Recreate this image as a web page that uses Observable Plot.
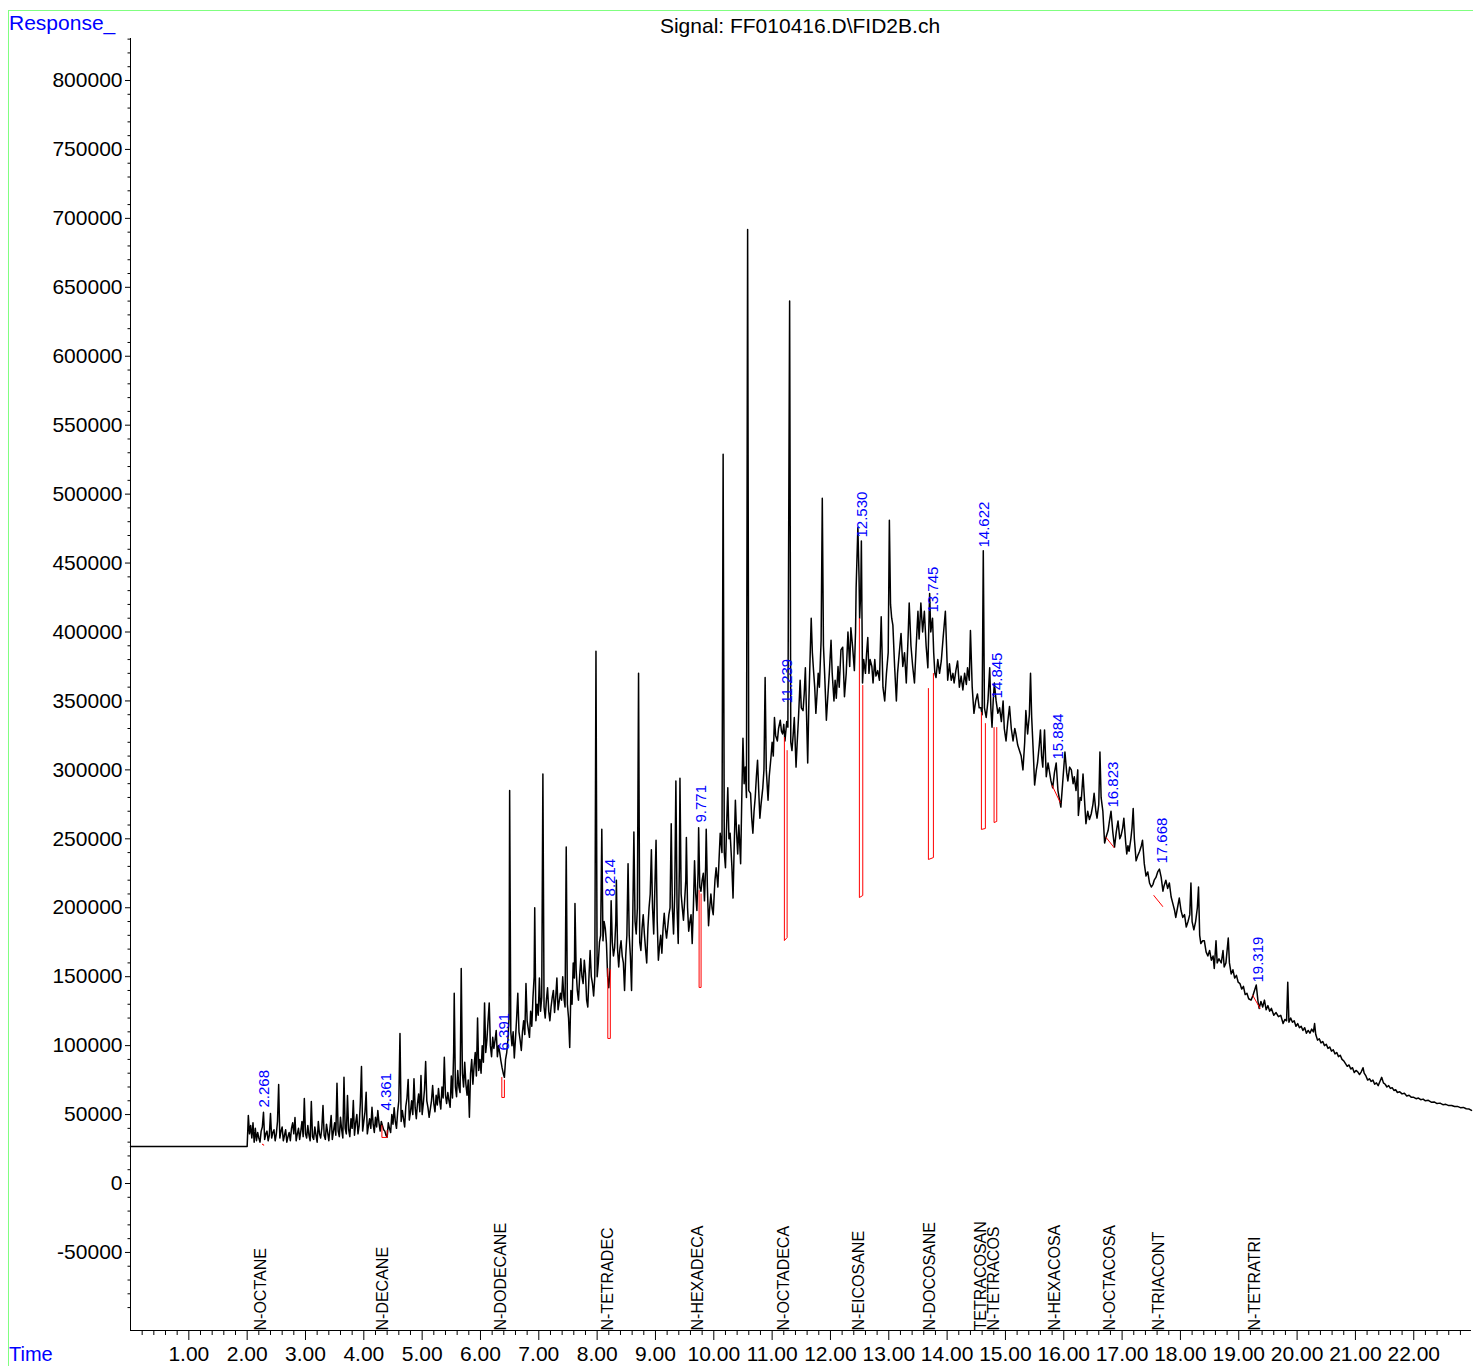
<!DOCTYPE html>
<html><head><meta charset="utf-8">
<script src="https://cdn.jsdelivr.net/npm/d3@7"></script>
<script src="https://cdn.jsdelivr.net/npm/@observablehq/plot@0.6"></script>
<style>
html,body{margin:0;padding:0;background:#fff;}
#chart{position:relative;width:1473px;height:1366px;overflow:hidden;}
</style></head><body><div id="chart"></div>
<script>
// ---- Texts ----
const chartTitle = "Signal: FF010416.D\\FID2B.ch";
const yAxisTitle = "Response_";
const xAxisTitle = "Time";

// ---- Axis ticks ----
const xTicks = [1,2,3,4,5,6,7,8,9,10,11,12,13,14,15,16,17,18,19,20,21,22];
const yTicks = [-50000,0,50000,100000,150000,200000,250000,300000,350000,400000,450000,500000,550000,600000,650000,700000,750000,800000];

// ---- Integrated peaks ----
const peakTimes = [2.268, 4.361, 6.391, 8.214, 9.771, 11.239, 12.530, 13.745, 14.622, 14.845, 15.884, 16.823, 17.668, 19.319];
const compoundNames = ["N-OCTANE","N-DECANE","N-DODECANE","N-TETRADEC","N-HEXADECA","N-OCTADECA","N-EICOSANE","N-DOCOSANE","TETRACOSAN","N-TETRACOS","N-HEXACOSA","N-OCTACOSA","N-TRIACONT","N-TETRATRI"];
// response (thousands) at which each retention-time label starts
const labelResp = [55.1, 52.9, 96.5, 208.2, 261.8, 348.1, 468.5, 414.1, 461.3, 351.8, 307.5, 272.7, 232.1, 145.8];
// integration baseline markers (time in min, response in thousands)
const markStart   = [2.256, 4.31, 6.366, 8.183, 9.748, 11.210, 12.496, 13.679, 14.588, 14.805, 15.80, 16.725, 17.543, 19.24];
const markEnd     = [2.29, 4.40, 6.41, 8.226, 9.782, 11.257, 12.554, 13.765, 14.656, 14.851, 15.94, 16.862, 17.697, 19.367];
const markTop1    = [28.5, 42.1, 76.9, 155.9, 212.5, 323.5, 409.8, 359.0, 341.6, 330.7, 288.7, 251.0, 208.9, 136.4];
const markBottom1 = [28.5, 33.4, 62.4, 105.2, 142.2, 176.2, 207.4, 235.0, 256.8, 261.8, 288.7, 251.0, 208.9, 136.4];
const markBottom2 = [27.8, 33.4, 62.4, 105.2, 142.2, 178.4, 208.9, 236.4, 257.5, 262.6, 276.3, 243.7, 200.9, 126.9];
const markTop2    = [27.8, 38.4, 75.0, 155.0, 210.0, 314.0, 361.2, 369.9, 333.6, 330.7, 276.3, 243.7, 200.9, 126.9];

// ---- Detector trace: [time (min), response (thousands)] ----
const traceA = [[0,26.8],[2.00,26.8],[2.02,49.3],[2.04,36],[2.06,42],[2.08,33],[2.10,44],[2.12,30],[2.14,40],[2.16,31],[2.18,37],[2.20,33],[2.22,30],[2.24,38],[2.26,41],[2.28,51.7],[2.30,32],[2.32,36],[2.34,38],[2.36,31],[2.38,35],[2.40,50.7],[2.42,33],[2.44,37],[2.46,39],[2.48,31],[2.50,36],[2.52,45],[2.54,71.8],[2.56,33],[2.58,38],[2.60,41],[2.62,31],[2.64,35],[2.66,39],[2.68,30],[2.70,34],[2.72,37],[2.74,31],[2.76,40],[2.78,44],[2.80,36],[2.82,47.9],[2.84,31],[2.86,36],[2.88,40],[2.90,32],[2.92,38],[2.94,45],[2.96,34],[2.98,61.6],[3.00,36],[3.02,33],[3.04,42],[3.06,35],[3.08,31],[3.10,59.5],[3.12,34],[3.14,32],[3.16,41],[3.18,35],[3.20,30],[3.22,45],[3.24,36],[3.26,33],[3.28,40],[3.30,56.6],[3.32,35],[3.34,32],[3.36,43],[3.38,37],[3.40,31],[3.42,40],[3.44,49.3],[3.46,32],[3.48,38],[3.50,44],[3.52,35],[3.54,72.7],[3.56,38],[3.58,34],[3.60,48],[3.62,39],[3.64,33],[3.66,77.1],[3.68,40],[3.70,36],[3.72,63.8],[3.74,39],[3.76,34],[3.78,47],[3.80,40],[3.82,60.2],[3.84,35],[3.86,44],[3.88,50],[3.90,36],[3.92,42],[3.94,58],[3.96,84.9],[3.98,38],[4.00,45],[4.02,52],[4.04,66.2],[4.06,36],[4.08,42],[4.10,47],[4.12,40],[4.14,55.3],[4.16,43],[4.18,37],[4.20,48],[4.22,41],[4.24,52.9],[4.26,44],[4.28,38],[4.30,45],[4.32,42],[4.34,39],[4.36,38],[4.38,35],[4.40,33.6],[4.42,44],[4.44,40],[4.46,37],[4.48,50],[4.50,43],[4.52,55],[4.54,45],[4.56,40],[4.58,52],[4.60,60],[4.62,108.8],[4.64,45],[4.66,53],[4.68,47],[4.70,41],[4.72,56],[4.74,62],[4.76,75.4],[4.78,46],[4.80,52],[4.82,60],[4.84,50],[4.86,76],[4.88,55],[4.90,47],[4.92,58],[4.94,65],[4.96,52],[4.98,78.3],[5.00,50],[5.02,58],[5.04,68],[5.06,88.5],[5.08,60],[5.10,55],[5.12,48],[5.14,54],[5.16,60],[5.18,71],[5.20,58],[5.22,52],[5.24,64],[5.26,57],[5.28,68.9],[5.30,60],[5.32,54],[5.34,70],[5.36,62],[5.38,91.6],[5.40,64],[5.42,58],[5.44,66],[5.46,60],[5.48,55.3],[5.50,78],[5.52,62],[5.54,95],[5.55,138],[5.57,70],[5.59,63],[5.61,82],[5.63,70],[5.65,66],[5.67,156],[5.69,80],[5.71,70],[5.73,88],[5.75,72],[5.77,64],[5.79,75],[5.81,48],[5.83,80],[5.85,90],[5.87,72],[5.89,85],[5.91,95],[5.93,78],[5.95,120],[5.97,82],[5.99,90]];
const traceB = [[6.01,80],[6.03,100],[6.05,88],[6.07,131],[6.09,95],[6.11,104],[6.13,118],[6.15,131],[6.17,100],[6.19,92],[6.21,106],[6.23,98],[6.25,104],[6.27,111],[6.29,92],[6.31,100],[6.33,95],[6.35,89],[6.37,84],[6.39,80],[6.41,77],[6.43,90],[6.45,95],[6.47,104],[6.49,120],[6.50,285],[6.52,110],[6.54,100],[6.56,110],[6.58,91],[6.60,105],[6.62,120],[6.64,138],[6.66,110],[6.68,104],[6.70,96.5],[6.72,110],[6.74,118],[6.76,108],[6.78,145],[6.80,118],[6.82,112],[6.84,106],[6.86,125],[6.88,114],[6.90,135],[6.92,150],[6.93,200],[6.95,118],[6.97,130],[6.99,122],[7.01,149],[7.03,125],[7.05,135],[7.07,297],[7.09,128],[7.11,120],[7.13,133],[7.15,142],[7.17,125],[7.19,118],[7.21,128],[7.23,135],[7.25,140],[7.27,124],[7.29,135],[7.31,149],[7.33,126],[7.35,132],[7.37,138],[7.39,133],[7.41,150],[7.43,135],[7.45,128],[7.47,244],[7.49,130],[7.51,120],[7.53,98.6],[7.55,140],[7.57,130],[7.59,160],[7.61,149],[7.62,203],[7.64,155],[7.66,140],[7.68,133],[7.70,150],[7.72,163],[7.74,150],[7.76,145],[7.78,162],[7.80,152],[7.82,133],[7.84,128],[7.86,150],[7.88,169],[7.90,150],[7.92,145],[7.94,136],[7.96,150],[7.98,386],[8.00,150]];
const traceC = [[8.02,160],[8.04,175],[8.06,180],[8.08,257],[8.10,176],[8.12,190],[8.14,185],[8.16,174],[8.18,150],[8.20,142],[8.22,155],[8.24,205],[8.26,175],[8.28,165],[8.30,171],[8.32,190],[8.33,220],[8.35,170],[8.37,157],[8.39,170],[8.41,176],[8.43,165],[8.45,160],[8.47,140],[8.49,165],[8.51,180],[8.53,232],[8.55,180],[8.57,165],[8.59,140],[8.61,190],[8.63,255],[8.65,190],[8.67,181],[8.69,200],[8.71,370],[8.73,175],[8.75,169],[8.77,185],[8.79,195],[8.81,181],[8.83,170],[8.85,160],[8.87,185],[8.89,200],[8.91,210],[8.93,242],[8.95,200],[8.97,181],[8.99,215],[9.01,249],[9.03,190],[9.05,162],[9.07,172],[9.09,180],[9.11,167],[9.13,185],[9.15,196],[9.17,185],[9.19,178],[9.21,186],[9.23,195],[9.25,200],[9.27,261],[9.29,200],[9.31,181],[9.33,210],[9.35,292],[9.37,200],[9.39,174],[9.41,230],[9.42,294],[9.44,210],[9.46,200],[9.48,191],[9.50,205],[9.52,220],[9.53,251],[9.55,200],[9.57,183],[9.59,190],[9.61,195],[9.63,174],[9.65,200],[9.67,234],[9.69,210],[9.71,198],[9.73,225],[9.74,258],[9.76,215],[9.78,212],[9.80,220],[9.82,225],[9.84,205],[9.86,230],[9.87,257],[9.89,215],[9.91,187],[9.93,200],[9.95,210],[9.97,200],[9.99,195]];
const traceD = [[10.01,212],[10.02,220],[10.04,229],[10.07,215],[10.09,235],[10.11,254],[10.14,240],[10.16,529],[10.18,240],[10.20,229],[10.22,260],[10.24,287],[10.26,250],[10.28,254],[10.31,230],[10.33,207],[10.35,245],[10.37,278],[10.39,255],[10.41,239],[10.43,260],[10.46,232],[10.48,280],[10.50,323],[10.52,290],[10.54,302],[10.56,280],[10.58,692],[10.60,285],[10.63,283],[10.65,265],[10.67,254],[10.69,270],[10.71,280],[10.73,295],[10.75,307],[10.77,285],[10.79,265],[10.81,275],[10.84,287],[10.86,300],[10.88,367],[10.90,300],[10.93,278],[10.95,295],[10.98,309],[11.00,320],[11.02,310],[11.04,338],[11.06,325],[11.09,321],[11.11,330],[11.14,336],[11.16,328],[11.18,326],[11.20,333],[11.22,321],[11.25,335],[11.27,331],[11.30,640],[11.32,320],[11.34,314],[11.36,325],[11.38,338],[11.41,302],[11.43,320],[11.45,336],[11.48,365],[11.50,345],[11.53,343],[11.55,355],[11.57,374],[11.59,340],[11.61,305],[11.63,350],[11.67,410],[11.69,385],[11.71,372],[11.73,360],[11.75,341],[11.77,355],[11.79,370],[11.81,360],[11.84,394],[11.86,497],[11.88,390],[11.90,370],[11.93,336],[11.95,350],[11.98,370],[12.01,394]];
const traceE = [[12.03,370],[12.06,350],[12.08,365],[12.10,352],[12.13,375],[12.15,360],[12.18,387],[12.21,389],[12.24,353],[12.27,370],[12.30,400],[12.33,375],[12.35,403],[12.38,389],[12.41,372],[12.43,400],[12.44,432],[12.47,476],[12.49,440],[12.50,410],[12.52,430],[12.53,466],[12.55,363],[12.57,380],[12.60,370],[12.62,385],[12.64,396],[12.66,370],[12.68,380],[12.71,375],[12.73,363],[12.76,380],[12.78,368],[12.81,372],[12.84,365],[12.87,411],[12.90,360],[12.93,350],[12.96,370],[12.99,385],[13.01,481],[13.03,420],[13.05,410],[13.07,405],[13.10,375],[13.13,350],[13.15,370],[13.18,385],[13.21,399],[13.24,375],[13.27,385],[13.30,363],[13.33,395],[13.35,421],[13.38,390],[13.41,375],[13.44,363],[13.47,390],[13.50,415],[13.52,395],[13.55,421],[13.58,400],[13.61,415],[13.64,390],[13.67,374],[13.70,428],[13.72,400],[13.75,410],[13.77,385],[13.79,370],[13.81,367],[13.84,380],[13.87,370],[13.90,379],[13.93,395],[13.97,415],[13.99,390],[14.01,365]];
const traceF = [[14.04,377],[14.07,365],[14.10,370],[14.12,363],[14.15,372],[14.18,379],[14.21,360],[14.24,368],[14.27,358],[14.30,370],[14.33,362],[14.35,374],[14.38,365],[14.40,401],[14.43,360],[14.46,341],[14.49,350],[14.52,355],[14.55,345],[14.58,345],[14.60,340],[14.62,459],[14.64,345],[14.67,338],[14.70,350],[14.73,374],[14.75,345],[14.77,331],[14.79,350],[14.81,363],[14.84,350],[14.87,341],[14.90,345],[14.93,335],[14.96,350],[14.98,330],[15.01,321],[15.04,335],[15.07,346],[15.10,330],[15.13,321],[15.16,330],[15.18,326],[15.21,318],[15.24,314],[15.27,310],[15.30,300],[15.33,320],[15.35,343],[15.38,326],[15.41,340],[15.43,370],[15.45,338],[15.48,310],[15.50,289],[15.53,300],[15.55,305],[15.58,318],[15.60,329],[15.62,310],[15.64,302],[15.67,329],[15.70,295],[15.73,305],[15.75,300],[15.78,292],[15.81,287],[15.84,298],[15.87,305],[15.90,285],[15.92,280],[15.95,273],[15.98,290],[16.02,313],[16.05,298],[16.07,292],[16.10,302],[16.13,300],[16.16,290],[16.18,295],[16.21,285],[16.24,300],[16.25,267],[16.28,280],[16.30,278],[16.33,297],[16.36,275],[16.38,261],[16.41,270],[16.44,264],[16.47,268],[16.50,275],[16.52,283],[16.55,270],[16.57,265],[16.60,275],[16.62,313],[16.64,280],[16.67,270],[16.70,247],[16.73,252],[16.76,256],[16.78,262],[16.81,270],[16.84,255],[16.87,244],[16.90,255],[16.93,263],[16.96,250],[16.98,252],[17.01,258],[17.03,265],[17.06,248],[17.08,239],[17.10,245],[17.12,241],[17.15,250],[17.17,258],[17.19,272],[17.21,250],[17.24,234],[17.27,238],[17.30,241],[17.33,245],[17.35,249],[17.38,232],[17.41,223],[17.44,226],[17.47,218],[17.50,215],[17.53,217],[17.55,220],[17.58,222],[17.61,226],[17.64,228],[17.67,222],[17.70,212],[17.72,216],[17.75,220],[17.78,214],[17.81,218],[17.84,208],[17.87,203],[17.90,198],[17.92,193],[17.95,200],[17.98,207],[18.01,198],[18.04,193],[18.07,195],[18.10,186],[18.13,190],[18.16,195],[18.18,218],[18.20,190],[18.23,184],[18.26,190],[18.29,200],[18.31,215],[18.33,180],[18.35,174]];
const traceG = [[18.38,176],[18.41,176],[18.44,168],[18.47,165],[18.50,169],[18.53,162],[18.56,165],[18.58,156],[18.61,176],[18.63,160],[18.66,163],[18.70,160],[18.73,169],[18.75,157],[18.78,160],[18.82,178],[18.84,160],[18.87,152],[18.90,155],[18.93,149],[18.96,151],[18.99,146],[19.02,145],[19.05,141],[19.08,143],[19.11,137],[19.14,138],[19.17,134],[19.21,133],[19.24,136],[19.27,140],[19.30,144],[19.33,132],[19.35,127],[19.38,132],[19.41,128],[19.44,133],[19.47,126],[19.50,129],[19.53,125],[19.56,127],[19.60,122],[19.64,124],[19.68,121],[19.72,122],[19.76,116],[19.79,119],[19.82,118],[19.84,146],[19.86,117],[19.89,120],[19.92,117],[19.95,118],[19.98,114],[20.01,116],[20.04,113],[20.07,114],[20.10,111],[20.13,113],[20.16,109],[20.19,111],[20.22,109],[20.25,112],[20.28,110],[20.30,116],[20.32,108],[20.35,104],[20.38,105],[20.41,102],[20.44,103],[20.47,100],[20.50,101],[20.53,98],[20.56,99],[20.59,96],[20.62,97],[20.65,94],[20.68,95],[20.71,92],[20.74,93],[20.77,90],[20.80,89],[20.83,87],[20.86,85],[20.89,86],[20.92,83],[20.95,84],[20.98,80.5],[21.01,82],[21.04,81],[21.07,79],[21.10,81],[21.13,84],[21.15,80],[21.18,78],[21.21,75],[21.24,76],[21.27,74],[21.30,75],[21.33,72],[21.36,73],[21.39,71],[21.42,74],[21.45,77],[21.48,73],[21.51,72],[21.54,70],[21.57,71],[21.60,69],[21.63,69.5],[21.66,67.5],[21.69,68],[21.72,66],[21.76,66.5],[21.80,65],[21.84,65.5],[21.88,63.5],[21.92,64],[21.96,62.5],[22.00,62.5],[22.04,61.5],[22.08,62],[22.12,60.8],[22.16,61.2],[22.20,60],[22.25,60.3],[22.30,59],[22.35,59.2],[22.40,58],[22.45,58.3],[22.50,57.2],[22.55,57.4],[22.60,56.5],[22.65,56.6],[22.70,55.8],[22.75,55.9],[22.80,55],[22.85,55.2],[22.90,54.2],[22.95,54],[22.99,53]];

// ---- Build tables ----
const trace = [...traceA, ...traceB, ...traceC, ...traceD, ...traceE, ...traceF, ...traceG]
  .map(([t, v]) => ({t, v: v * 1000}));
const markerRows = [];
peakTimes.forEach((p, i) => {
  markerRows.push({id: i, t: markStart[i], v: markTop1[i] * 1000});
  markerRows.push({id: i, t: markStart[i], v: markBottom1[i] * 1000});
  markerRows.push({id: i, t: markEnd[i], v: markBottom2[i] * 1000});
  markerRows.push({id: i, t: markEnd[i], v: markTop2[i] * 1000});
});
const peakRows = peakTimes.map((t, i) => ({t, name: compoundNames[i], lv: labelResp[i] * 1000, label: t.toFixed(3)}));

const xMinor = d3.range(0.2, 23, 0.2).filter(d => Math.abs(d - Math.round(d)) > 1e-6);
const yMinor = d3.range(-100000, 830001, 10000).filter(d => d % 50000 !== 0);
const yMin = -106615, yMax = 830460;

const FONT = "'Liberation Sans', Arial, Helvetica, sans-serif";

const plot = Plot.plot({
  width: 1473,
  height: 1366,
  marginLeft: 130,
  marginRight: 2,
  marginTop: 38,
  marginBottom: 36,
  style: {fontFamily: FONT, fontSize: "21px", background: "white", color: "black"},
  x: {domain: [0, 22.99]},
  y: {domain: [yMin, yMax]},
  marks: [
    Plot.ruleX([0], {stroke: "black", strokeWidth: 1}),
    Plot.ruleY([yMin], {stroke: "black", strokeWidth: 1}),
    Plot.axisY(yTicks, {tickSize: 5, tickPadding: 3, tickFormat: d => String(d), fontSize: 21, label: null}),
    Plot.axisY(yMinor, {tickSize: 2.5, tickFormat: () => "", label: null}),
    Plot.axisX(xTicks, {tickSize: 10, tickPadding: 6, tickFormat: d => d.toFixed(2), fontSize: 21, label: null}),
    Plot.axisX(xMinor, {tickSize: 5, tickFormat: () => "", label: null}),
    Plot.line(trace, {x: "t", y: "v", stroke: "black", strokeWidth: 1.5}),
    Plot.line(markerRows, {x: "t", y: "v", z: "id", stroke: "#ff0000", strokeWidth: 1}),
    Plot.text(peakRows, {x: "t", y: "lv", text: "label", rotate: -90, textAnchor: "start", fill: "#0000ff", fontSize: 15, dx: 1}),
    Plot.text(peakRows, {x: "t", frameAnchor: "bottom", text: "name", rotate: -90, textAnchor: "start", fill: "black", fontSize: 16, dx: 3})
  ]
});

const svg = d3.select(plot);
svg.append("rect").attr("x", 8.5).attr("y", 10.5).attr("width", 1500).attr("height", 1500)
  .attr("fill", "none").attr("stroke", "#80ff80").attr("stroke-width", 1);
svg.append("text").attr("x", 800).attr("y", 33).attr("text-anchor", "middle")
  .attr("font-family", FONT).attr("font-size", 21).attr("fill", "black").text(chartTitle);
svg.append("text").attr("x", 9).attr("y", 30).attr("text-anchor", "start")
  .attr("font-family", FONT).attr("font-size", 21).attr("fill", "#0000ff").text(yAxisTitle);
svg.append("text").attr("x", 9).attr("y", 1361).attr("text-anchor", "start")
  .attr("font-family", FONT).attr("font-size", 20).attr("fill", "#0000ff").text(xAxisTitle);

document.getElementById("chart").appendChild(plot);
</script>
</body></html>
